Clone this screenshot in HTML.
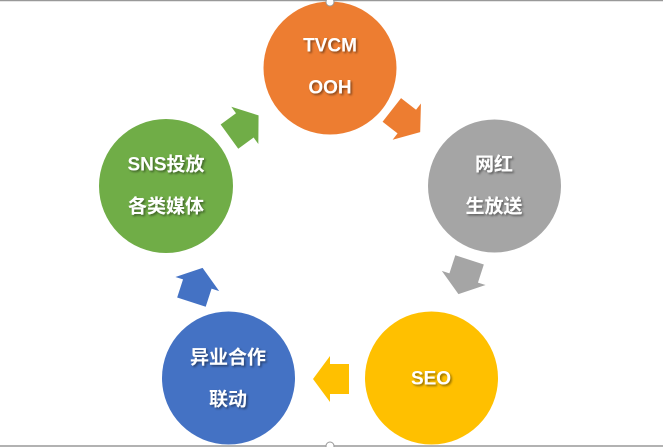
<!DOCTYPE html>
<html><head><meta charset="utf-8"><style>
html,body{margin:0;padding:0;background:#fff;}
svg{display:block}
text{font-family:"Liberation Sans","Noto Sans CJK SC",sans-serif;font-weight:bold;font-size:19px;fill:#fff;text-anchor:middle;dominant-baseline:central}
</style></head><body>
<svg width="663" height="447" viewBox="0 0 663 447" xmlns="http://www.w3.org/2000/svg">
<defs>
<filter id="ts" x="-20%" y="-20%" width="140%" height="140%"><feDropShadow dx="1.5" dy="1.5" stdDeviation="1" flood-color="#000" flood-opacity="0.45"/></filter>
<path id="ar" d="M-18,-15 L1,-15 L1,-23 L18,0 L1,23 L1,15 L-18,15 Z"/>
</defs>
<line x1="0" y1="0.5" x2="663" y2="0.5" stroke="#999" stroke-width="1.5"/>
<line x1="0" y1="446" x2="663" y2="446" stroke="#999" stroke-width="1.5"/>
<circle cx="330" cy="68" r="66.5" fill="#ED7D31"/>
<circle cx="494.5" cy="186" r="66.5" fill="#A5A5A5"/>
<circle cx="431.5" cy="378" r="66.5" fill="#FFC000"/>
<circle cx="228.5" cy="378" r="66.5" fill="#4472C4"/>
<circle cx="166" cy="186" r="67" fill="#70AD47"/>
<circle cx="330" cy="2" r="4" fill="#fff" stroke="#999"/>
<circle cx="330" cy="446" r="4" fill="#fff" stroke="#999"/>
<use href="#ar" fill="#ED7D31" transform="translate(406,121) rotate(38)"/>
<use href="#ar" fill="#A5A5A5" transform="translate(464,277) rotate(108)"/>
<use href="#ar" fill="#FFC000" transform="translate(331,379) rotate(180)"/>
<use href="#ar" fill="#4472C4" transform="translate(197,285) rotate(-72)"/>
<use href="#ar" fill="#70AD47" transform="translate(244,126) rotate(-36)"/>
<g filter="url(#ts)">
<text x="330" y="46">TVCM</text><text x="330" y="88">OOH</text>
<text x="494" y="165">网红</text><text x="494" y="207">生放送</text>
<text x="431" y="379">SEO</text>
<text x="228" y="358">异业合作</text><text x="228" y="400">联动</text>
<text x="166" y="165">SNS投放</text><text x="166" y="207">各类媒体</text>
</g>
</svg>
</body></html>
